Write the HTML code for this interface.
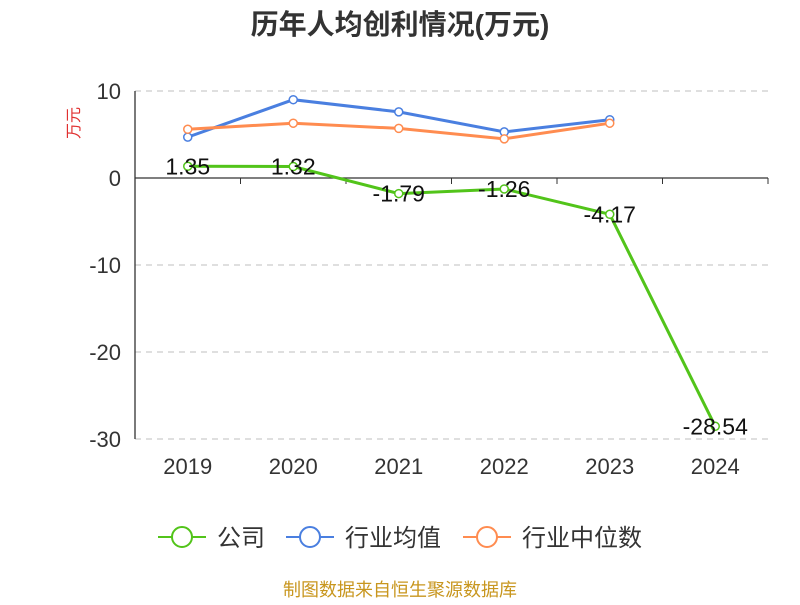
<!DOCTYPE html>
<html><head><meta charset="utf-8"><style>
body{margin:0;background:#fff;font-family:"Liberation Sans","Noto Sans CJK SC",sans-serif}
svg text{font-family:"Liberation Sans","Noto Sans CJK SC",sans-serif}
</style></head><body>
<svg id="c" width="800" height="600" xmlns="http://www.w3.org/2000/svg">
<text x="400" y="34" text-anchor="middle" font-size="28" font-weight="bold" fill="#333">历年人均创利情况(万元)</text>
<text x="0" y="0" transform="translate(79,123) rotate(-90)" text-anchor="middle" font-size="16" fill="#e03030">万元</text>
<text x="400" y="596" text-anchor="middle" font-size="18" fill="#c8961e">制图数据来自恒生聚源数据库</text>
<g id="grid"></g><g id="series"></g><g id="legend"></g>
</svg>
<script>
const categories=["2019","2020","2021","2022","2023","2024"];
const companyValues=[1.35,1.32,-1.79,-1.26,-4.17,-28.54];
const avgValues=[4.7,9.0,7.6,5.3,6.7,null];
const medianValues=[5.6,6.3,5.7,4.5,6.3,null];
const yTicks=[10,0,-10,-20,-30];
const NS="http://www.w3.org/2000/svg";
const x0=135,x1=768,yTop=91,yBot=439;
const yS=v=>178-(v*(yBot-yTop)/40);
const band=(x1-x0)/categories.length;
const xS=i=>x0+band*(i+0.5);
function mk(tag,attrs,parent,text){const e=document.createElementNS(NS,tag);for(const k in attrs)e.setAttribute(k,attrs[k]);if(text!==undefined)e.textContent=text;parent.appendChild(e);return e;}
const g=document.getElementById('grid');
yTicks.forEach(t=>{
 if(t!==0){const l=mk('line',{x1:x0,x2:x1,y1:yS(t),y2:yS(t),stroke:'#ccc','stroke-dasharray':'6,5','stroke-width':1.3},g);
 
 }
 const tx=mk('text',{x:x0-14,y:yS(t)+8,'text-anchor':'end','font-size':22,fill:'#333'},g,String(t));
 
 
});
const ya=mk('line',{x1:x0,x2:x0,y1:yTop,y2:yBot,stroke:'#333','stroke-width':1.3},g);


const xa=mk('line',{x1:x0,x2:x1,y1:yS(0),y2:yS(0),stroke:'#333','stroke-width':1.3},g);


for(let i=0;i<=categories.length;i++){const tk=mk('line',{x1:x0+band*i,x2:x0+band*i,y1:yS(0),y2:yS(0)+6,stroke:'#333'},g);
 
 }
categories.forEach((c,i)=>{const t=mk('text',{x:xS(i),y:474,'text-anchor':'middle','font-size':22,fill:'#333'},g,c);
 
 });
const s=document.getElementById('series');
function series(vals,color,name,labels){
 const pts=vals.map((v,i)=>v===null?null:[xS(i),yS(v)]).filter(p=>p);
 const pl=mk('polyline',{points:pts.map(p=>p.join(',')).join(' '),fill:'none',stroke:color,'stroke-width':3},s);
 
 
 vals.forEach((v,i)=>{if(v===null)return;
  const c=mk('circle',{cx:xS(i),cy:yS(v),r:4,fill:'#fff',stroke:color,'stroke-width':1.5},s);
  
  
  if(labels){const t=mk('text',{x:xS(i),y:yS(v)+8,'text-anchor':'middle','font-size':23,fill:'#111'},s,v.toFixed(2));
   
   }
 });
}
series(avgValues,'#4a7fe0','industry-average',false);
series(medianValues,'#ff8c50','industry-median',false);
series(companyValues,'#52c41a','company',true);
const lg=document.getElementById('legend');
[['公司','#52c41a',158],['行业均值','#4a7fe0',286],['行业中位数','#ff8c50',463]].forEach(([n,c,x])=>{
 const gg=mk('g',{},lg);
 
 
 mk('line',{x1:x,x2:x+48,y1:537,y2:537,stroke:c,'stroke-width':2},gg);
 mk('circle',{cx:x+24,cy:537,r:10,fill:'#fff',stroke:c,'stroke-width':2},gg);
 mk('text',{x:x+59,y:546,'font-size':24,fill:'#333'},gg,n);
});
</script>
</body></html>
